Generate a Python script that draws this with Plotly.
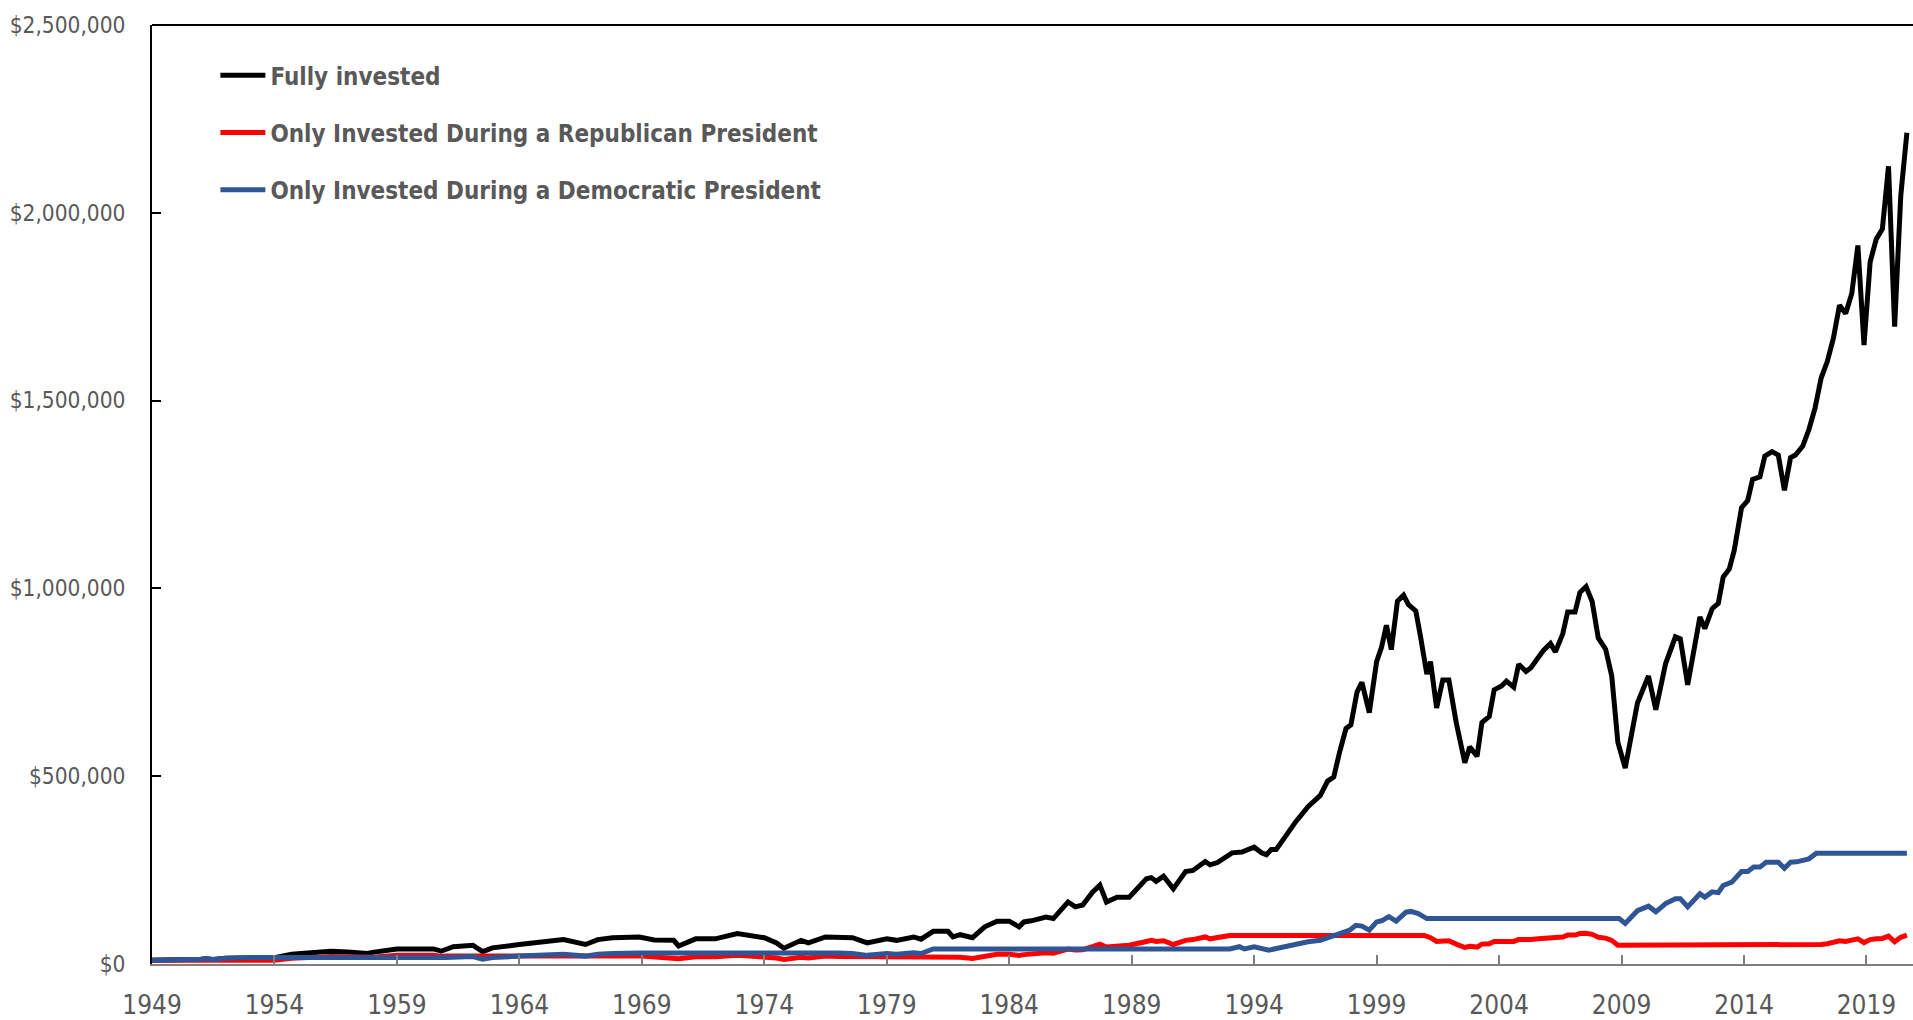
import plotly.graph_objects as go

# ---------------- data (values in thousands of US$) ----------------
tick_years = [1949, 1954, 1959, 1964, 1969, 1974, 1979, 1984, 1989, 1994, 1999, 2004, 2009, 2014, 2019]
y_ticks = [0, 500000, 1000000, 1500000, 2000000, 2500000]
y_tick_labels = ["$0", "$500,000", "$1,000,000", "$1,500,000", "$2,000,000", "$2,500,000"]

full_x = [1949.0, 1949.5, 1950.0, 1950.5, 1951.0, 1951.2, 1951.5, 1952.0, 1952.5, 1953.0, 1953.5, 1954.0,
          1954.7, 1955.5, 1956.3, 1957.0, 1957.8, 1958.0, 1959.0, 1960.5, 1960.8, 1961.3, 1962.1, 1962.5,
          1962.9, 1964.0, 1964.8, 1965.8, 1966.7, 1967.2, 1967.8, 1968.9, 1969.5, 1970.3, 1970.5, 1971.2,
          1972.0, 1972.9, 1974.0, 1974.5, 1974.8, 1975.5, 1975.8, 1976.5, 1977.6, 1978.2, 1979.0, 1979.4,
          1980.1, 1980.4, 1980.9, 1981.5, 1981.7, 1982.0, 1982.5, 1983.0, 1983.5, 1984.0, 1984.4, 1984.6,
          1984.9, 1985.5, 1985.8, 1986.4, 1986.7, 1987.0, 1987.4, 1987.7, 1987.97, 1988.4, 1988.9, 1989.6,
          1989.8, 1990.0, 1990.3, 1990.7, 1991.2, 1991.5, 1992.0, 1992.2, 1992.5, 1993.1, 1993.5, 1994.0,
          1994.3, 1994.5, 1994.7, 1994.9, 1995.25, 1995.7, 1996.2, 1996.7, 1997.0, 1997.25, 1997.5, 1997.75,
          1997.95, 1998.2, 1998.4, 1998.7, 1999.0, 1999.2, 1999.4, 1999.6, 1999.85, 2000.1, 2000.3, 2000.6,
          2000.8, 2001.05, 2001.2, 2001.45, 2001.7, 2001.95, 2002.25, 2002.6, 2002.8, 2003.1, 2003.3, 2003.6,
          2003.8, 2004.1, 2004.3, 2004.6, 2004.8, 2005.1, 2005.3, 2005.6, 2005.8, 2006.1, 2006.3, 2006.6,
          2006.8, 2007.1, 2007.3, 2007.55, 2007.8, 2008.05, 2008.35, 2008.6, 2008.85, 2009.15, 2009.4, 2009.65,
          2010.1, 2010.4, 2010.8, 2011.2, 2011.4, 2011.7, 2012.2, 2012.4, 2012.7, 2012.95, 2013.15, 2013.4,
          2013.6, 2013.9, 2014.15, 2014.35, 2014.65, 2014.85, 2015.15, 2015.4, 2015.65, 2015.9, 2016.1, 2016.4,
          2016.65, 2016.9, 2017.15, 2017.4, 2017.65, 2017.9, 2018.15, 2018.4, 2018.65, 2018.9, 2019.15, 2019.4,
          2019.65, 2019.9, 2020.15, 2020.4, 2020.65]
full_k = [10, 10, 11, 11.5, 12.5, 14, 12, 15, 16, 17, 16, 17,
          26, 30, 34, 32, 28, 31, 40, 40, 34, 46, 50, 33,
          43, 52, 59, 65, 52, 65, 70, 72, 64, 63, 48, 67,
          67, 81, 70, 56, 42, 63, 56, 72, 70, 56, 67, 63,
          72, 66, 87, 87, 72, 78, 70, 99, 114, 114, 99, 112,
          115, 125, 121, 165, 152, 157, 191, 210, 165, 178, 178, 227,
          230, 220, 234, 200, 246, 249, 273, 264, 270, 296, 298, 311,
          296, 291, 305, 305, 337, 379, 419, 449, 487, 498, 567, 627,
          637, 724, 750, 669, 805, 843, 902, 837, 966, 982, 957, 940,
          869, 772, 805, 682, 756, 756, 643, 536, 578, 553, 643, 659,
          730, 740, 753, 737, 798, 779, 789, 818, 834, 853, 831, 879,
          937, 937, 989, 1005, 965, 868, 838, 767, 590, 522, 606, 695,
          767, 677, 800, 871, 866, 743, 924, 893, 946, 960, 1030, 1052,
          1101, 1215, 1234, 1290, 1297, 1352, 1364, 1355, 1261, 1348, 1355, 1379,
          1423, 1480, 1560, 1604, 1666, 1754, 1732, 1785, 1913, 1648, 1869, 1930,
          1957, 2124, 1697, 2045, 2213]

rep_x = [1949.0, 1953.0, 1953.5, 1953.8, 1954.0, 1954.7, 1955.5, 1956.3, 1957.0, 1957.8, 1958.0, 1959.0,
         1960.5, 1960.8, 1961.0, 1969.0, 1969.5, 1970.3, 1970.5, 1971.2, 1972.0, 1972.9, 1974.0, 1974.5,
         1974.8, 1975.5, 1975.8, 1976.5, 1977.0, 1981.0, 1981.5, 1981.7, 1982.0, 1982.5, 1983.0, 1983.5,
         1984.0, 1984.4, 1984.6, 1984.9, 1985.5, 1985.8, 1986.4, 1986.7, 1987.0, 1987.4, 1987.7, 1987.97,
         1988.4, 1988.9, 1989.6, 1989.8, 1990.0, 1990.3, 1990.7, 1991.2, 1991.5, 1992.0, 1992.2, 1992.5,
         1993.0, 2000.95, 2001.2, 2001.45, 2001.7, 2001.95, 2002.25, 2002.6, 2002.8, 2003.1, 2003.3, 2003.6,
         2003.8, 2004.1, 2004.3, 2004.6, 2004.8, 2005.1, 2005.3, 2005.6, 2005.8, 2006.1, 2006.3, 2006.6,
         2006.8, 2007.1, 2007.3, 2007.55, 2007.8, 2008.05, 2008.35, 2008.6, 2008.85, 2017.0, 2017.15, 2017.4,
         2017.65, 2017.9, 2018.15, 2018.4, 2018.65, 2018.9, 2019.15, 2019.4, 2019.65, 2019.9, 2020.15, 2020.4,
         2020.65]
rep_k = [10, 10, 9.4, 9, 10, 15, 17.6, 20, 19, 16.5, 18, 23.5,
         23.5, 20, 21, 21, 19, 18, 14, 19.5, 19.5, 23.5, 20, 16,
         12, 18, 16, 21, 20, 20, 20, 17, 18, 15, 22, 26,
         26, 23, 25, 27, 30, 29, 40, 37, 38, 46, 53, 45,
         48, 50, 60, 63, 60, 62, 52, 63, 65, 72, 67, 70,
         76, 76, 70, 60, 62, 62, 53, 44, 47, 45, 53, 54,
         60, 61, 62, 60, 65, 64, 65, 67, 68, 70, 68, 72,
         77, 77, 81, 82, 79, 71, 69, 63, 50, 50, 52, 54,
         57, 62, 60, 62, 67, 57, 65, 67, 68, 74, 59, 71,
         77]

dem_x = [1949.0, 1949.5, 1950.0, 1950.5, 1951.0, 1951.2, 1951.5, 1952.0, 1952.5, 1953.0, 1961.0, 1961.3,
         1962.1, 1962.5, 1962.9, 1964.0, 1964.8, 1965.8, 1966.7, 1967.2, 1967.8, 1968.9, 1977.0, 1977.6,
         1978.2, 1979.0, 1979.4, 1980.1, 1980.4, 1980.9, 1993.0, 1993.4, 1993.6, 1994.0, 1994.6, 1995.0,
         1995.5, 1996.2, 1996.7, 1997.2, 1997.9, 1998.15, 1998.4, 1998.7, 1999.0, 1999.2, 1999.5, 1999.8,
         2000.2, 2000.4, 2000.7, 2001.05, 2008.9, 2009.15, 2009.4, 2009.65, 2010.1, 2010.4, 2010.8, 2011.2,
         2011.4, 2011.7, 2012.2, 2012.4, 2012.7, 2012.95, 2013.15, 2013.5, 2013.9, 2014.15, 2014.4, 2014.65,
         2014.9, 2015.15, 2015.4, 2015.65, 2015.9, 2016.15, 2016.4, 2016.65, 2016.95, 2020.65]
dem_k = [10, 10, 11, 11.5, 12.5, 14, 12, 15, 16, 17, 17, 18.5,
         20, 13, 17, 21, 23.5, 26, 21, 26, 28, 29, 29, 28,
         23, 28, 26, 30, 28, 40, 40, 46, 40, 46, 37, 43,
         50, 59, 63, 75, 90, 103, 101, 90, 112, 115, 126, 114,
         138, 140, 134, 121, 121, 108, 125, 142, 154, 139, 161, 174,
         174, 152, 187, 178, 192, 190, 209, 218, 246, 246, 258, 258,
         271, 271, 271, 255, 271, 272, 276, 280, 295, 295]

series = [
    ("Fully invested", full_x, full_k, "#000000"),
    ("Only Invested During a Republican President", rep_x, rep_k, "#FF0000"),
    ("Only Invested During a Democratic President", dem_x, dem_k, "#2F5597"),
]

FONT = "DejaVu Sans Condensed, DejaVu Sans, sans-serif"
GRAY = "#595959"

fig = go.Figure()
for i, (name, xs, ks, color) in enumerate(series):
    fig.add_trace(go.Scatter(
        x=xs, y=[k * 1000 for k in ks], name=name, mode="lines",
        line=dict(color=color, width=5), legendgroup=f"g{i}",
    ))

fig.update_layout(
    width=1913, height=1020,
    margin=dict(l=152, r=0, t=25, b=51),
    paper_bgcolor="white", plot_bgcolor="white",
    showlegend=True,
    legend=dict(
        x=0.036, y=0.970, xanchor="left", yanchor="top",
        traceorder="grouped", tracegroupgap=23, itemwidth=45,
        font=dict(family=FONT, size=24, color=GRAY, weight="bold"),
        bgcolor="rgba(0,0,0,0)",
    ),
    xaxis=dict(
        range=[1949, 2020.9], tickmode="array", tickvals=tick_years,
        ticktext=[str(y) for y in tick_years],
        ticks="inside", ticklen=9, tickwidth=2, tickcolor="#7F7F7F",
        showline=True, linecolor="#7F7F7F", linewidth=2,
        showgrid=False, zeroline=False, ticklabelstandoff=17,
        tickfont=dict(family=FONT, size=26, color=GRAY),
    ),
    yaxis=dict(
        range=[0, 2500000], tickmode="array", tickvals=y_ticks, ticktext=y_tick_labels,
        ticks="inside", ticklen=9, tickwidth=2, tickcolor="#000000",
        showline=True, linecolor="#000000", linewidth=2,
        showgrid=False, zeroline=False, ticklabelstandoff=20,
        tickfont=dict(family=FONT, size=22.5, color=GRAY),
    ),
    shapes=[dict(type="line", xref="paper", yref="paper", x0=0, x1=1, y0=1, y1=1,
                 line=dict(color="#000000", width=2))],
)

fig.write_html(
    "out.html",
    config={"displayModeBar": False},
    post_script="document.body.style.margin='0px';document.body.style.overflow='hidden';",
)
